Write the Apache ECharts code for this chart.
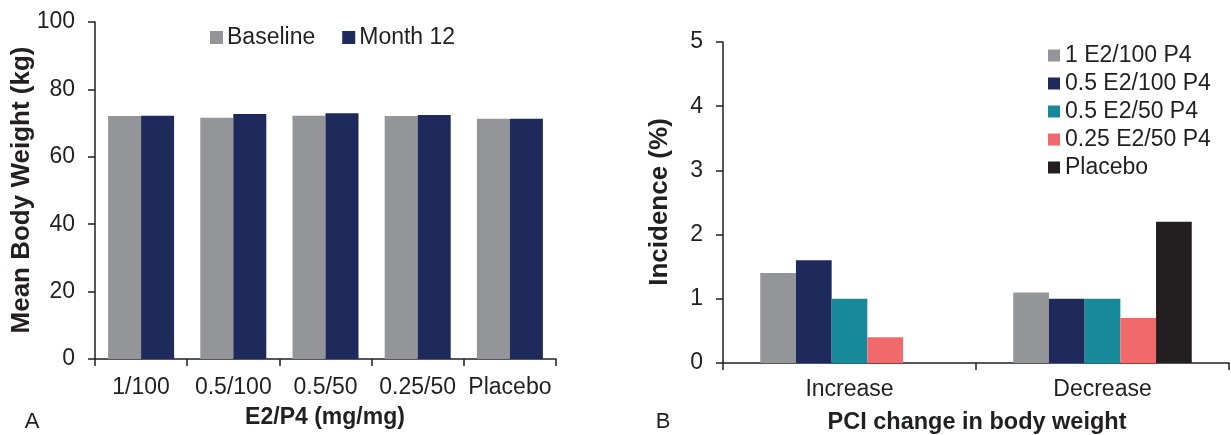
<!DOCTYPE html>
<html>
<head>
<meta charset="utf-8">
<script src="https://cdn.jsdelivr.net/npm/echarts@6/dist/echarts.min.js"></script>
<style>
html,body{margin:0;padding:0;background:#fff;}
#c{width:1231px;height:435px;}
</style>
</head>
<body>
<div id="c"></div>
<script>
// Panel A data
const doseCategories = ['1/100', '0.5/100', '0.5/50', '0.25/50', 'Placebo'];
const baseline = [72.1, 71.6, 72.2, 72.1, 71.3];
const month12 = [72.2, 72.7, 72.9, 72.4, 71.3];
const weightTicks = [0, 20, 40, 60, 80, 100];

// Panel B data
const changeCategories = ['Increase', 'Decrease'];
const e2_1_p4_100 = [1.4, 1.1];
const e2_05_p4_100 = [1.6, 1.0];
const e2_05_p4_50 = [1.0, 1.0];
const e2_025_p4_50 = [0.4, 0.7];
const placebo = [0, 2.2];
const incidenceTicks = [0, 1, 2, 3, 4, 5];

const TXT = '#231f20';
const FONT = 'Liberation Sans, Arial, sans-serif';
const FS = 23;
const C_GRAY = '#939598', C_NAVY = '#1e2a5c', C_TEAL = '#168a9a', C_PINK = '#f06a6c', C_BLACK = '#231f20';

const chart = echarts.init(document.getElementById('c'), null, {renderer: 'canvas'});

function axisCommon() {
  return {
    axisLine: {show: true, lineStyle: {color: TXT, width: 1.5}},
    axisTick: {show: true, length: 7, lineStyle: {color: TXT, width: 1.5}},
    splitLine: {show: false},
    axisLabel: {color: TXT, fontSize: FS, fontFamily: FONT}
  };
}

const option = {
  animation: false,
  backgroundColor: '#fff',
  textStyle: {fontFamily: FONT, color: TXT},
  grid: [
    {left: 95, top: 22, width: 461, height: 337, containLabel: false},
    {left: 723, top: 42, width: 506, height: 321, containLabel: false}
  ],
  legend: [
    {
      data: ['Baseline', 'Month 12'],
      orient: 'horizontal', left: 210, top: 26, padding: 0,
      itemWidth: 13, itemHeight: 13, itemGap: 27,
      textStyle: {fontSize: FS, color: TXT, fontFamily: FONT, padding: [0, 0, 0, -1]},
      icon: 'rect'
    },
    {
      data: ['1 E2/100 P4', '0.5 E2/100 P4', '0.5 E2/50 P4', '0.25 E2/50 P4', 'Placebo'],
      orient: 'vertical', left: 1048, top: 44, padding: 0,
      itemWidth: 12, itemHeight: 12, itemGap: 5,
      textStyle: {fontSize: FS, color: TXT, fontFamily: FONT},
      icon: 'rect'
    }
  ],
  xAxis: [
    Object.assign(axisCommon(), {
      gridIndex: 0, type: 'category', data: doseCategories,
      axisLabel: {color: TXT, fontSize: FS, fontFamily: FONT, margin: 17, interval: 0}
    }),
    Object.assign(axisCommon(), {
      gridIndex: 1, type: 'category', data: changeCategories,
      axisLabel: {color: TXT, fontSize: FS, fontFamily: FONT, margin: 15, interval: 0}
    })
  ],
  yAxis: [
    Object.assign(axisCommon(), {
      gridIndex: 0, type: 'value',
      min: weightTicks[0], max: weightTicks[weightTicks.length - 1], interval: weightTicks[1] - weightTicks[0],
      axisLabel: {color: TXT, fontSize: FS, fontFamily: FONT, margin: 20}
    }),
    Object.assign(axisCommon(), {
      gridIndex: 1, type: 'value',
      min: incidenceTicks[0], max: incidenceTicks[incidenceTicks.length - 1], interval: incidenceTicks[1] - incidenceTicks[0],
      axisLabel: {color: TXT, fontSize: FS, fontFamily: FONT, margin: 20}
    })
  ],
  series: [
    {name: 'Baseline', type: 'bar', xAxisIndex: 0, yAxisIndex: 0, data: baseline, barWidth: 33, barGap: '0%', itemStyle: {color: C_GRAY}},
    {name: 'Month 12', type: 'bar', xAxisIndex: 0, yAxisIndex: 0, data: month12, barWidth: 33, barGap: '0%', itemStyle: {color: C_NAVY}},
    {name: '1 E2/100 P4', type: 'bar', xAxisIndex: 1, yAxisIndex: 1, data: e2_1_p4_100, barWidth: 35.7, barGap: '0%', itemStyle: {color: C_GRAY}},
    {name: '0.5 E2/100 P4', type: 'bar', xAxisIndex: 1, yAxisIndex: 1, data: e2_05_p4_100, barWidth: 35.7, barGap: '0%', itemStyle: {color: C_NAVY}},
    {name: '0.5 E2/50 P4', type: 'bar', xAxisIndex: 1, yAxisIndex: 1, data: e2_05_p4_50, barWidth: 35.7, barGap: '0%', itemStyle: {color: C_TEAL}},
    {name: '0.25 E2/50 P4', type: 'bar', xAxisIndex: 1, yAxisIndex: 1, data: e2_025_p4_50, barWidth: 35.7, barGap: '0%', itemStyle: {color: C_PINK}},
    {name: 'Placebo', type: 'bar', xAxisIndex: 1, yAxisIndex: 1, data: placebo, barWidth: 35.7, barGap: '0%', itemStyle: {color: C_BLACK}}
  ],
  graphic: [
    {type: 'text', x: 22, y: 190, rotation: Math.PI / 2,
     style: {text: 'Mean Body Weight (kg)', fontSize: 26, fontWeight: 'bold', fontFamily: FONT, fill: TXT, textAlign: 'center', textVerticalAlign: 'middle'}},
    {type: 'text', x: 325, y: 418,
     style: {text: 'E2/P4 (mg/mg)', fontSize: 23, fontWeight: 'bold', fontFamily: FONT, fill: TXT, textAlign: 'center', textVerticalAlign: 'middle'}},
    {type: 'text', x: 32, y: 422,
     style: {text: 'A', fontSize: 22, fontFamily: FONT, fill: TXT, textAlign: 'center', textVerticalAlign: 'middle'}},
    {type: 'text', x: 660, y: 202, rotation: Math.PI / 2,
     style: {text: 'Incidence (%)', fontSize: 26, fontWeight: 'bold', fontFamily: FONT, fill: TXT, textAlign: 'center', textVerticalAlign: 'middle'}},
    {type: 'text', x: 977, y: 423,
     style: {text: 'PCI change in body weight', fontSize: 23.5, fontWeight: 'bold', fontFamily: FONT, fill: TXT, textAlign: 'center', textVerticalAlign: 'middle'}},
    {type: 'text', x: 663, y: 422,
     style: {text: 'B', fontSize: 22, fontFamily: FONT, fill: TXT, textAlign: 'center', textVerticalAlign: 'middle'}}
  ]
};
chart.setOption(option);
</script>
</body>
</html>
